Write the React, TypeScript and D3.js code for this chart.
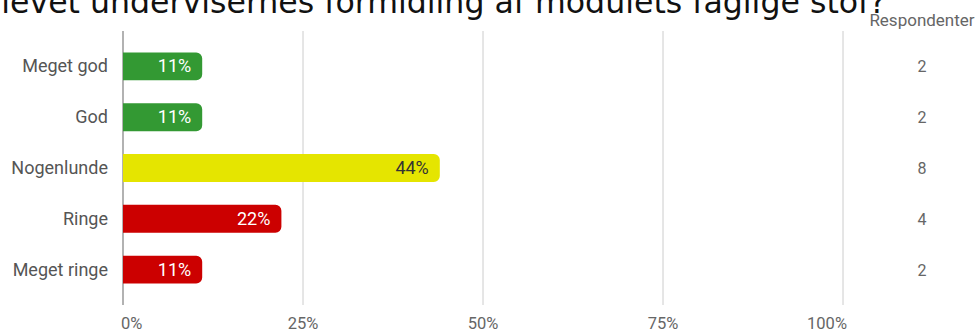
import React from "react";
import * as d3 from "d3";

const categories = ["Meget god", "God", "Nogenlunde", "Ringe", "Meget ringe"];
const percents = [11, 11, 44, 22, 11];
const counts = [2, 2, 8, 4, 2];
const barColors = ["#339933", "#339933", "#e5e500", "#cc0000", "#cc0000"];
const labelColors = ["#ffffff", "#ffffff", "#333333", "#ffffff", "#ffffff"];
const ticks = [0, 25, 50, 75, 100];
const title = "levet undervisernes formidling af modulets faglige stof?";

export default function App() {
  const W = 979, H = 332;
  const x = d3.scaleLinear().domain([0, 100]).range([123, 843]);
  const y = d3.scaleBand().domain(categories).range([41, 295]).paddingInner(0.45).paddingOuter(0.225);
  const bh = y.bandwidth();
  const r = 6;
  const barPath = (v: number, yy: number) => {
    const x0 = x(0), x1 = x(v);
    const p = d3.path();
    p.moveTo(x0, yy);
    p.lineTo(x1 - r, yy);
    p.arcTo(x1, yy, x1, yy + r, r);
    p.lineTo(x1, yy + bh - r);
    p.arcTo(x1, yy + bh, x1 - r, yy + bh, r);
    p.lineTo(x0, yy + bh);
    p.closePath();
    return p.toString();
  };
  return (
    <svg width={W} height={H} style={{ position: "absolute", left: 0, top: 0, background: "#fff" }}>
      <text x={886} y={13} textAnchor="end" fontFamily="DejaVu Sans" fontSize={31.6} fill="#111">{title}</text>
      <text x={922} y={26} textAnchor="middle" fontFamily="Roboto" fontSize={17} fill="#666">Respondenter</text>
      {ticks.map((t, i) => (
        <g key={t}>
          <line x1={x(t)} x2={x(t)} y1={31} y2={305} stroke={t === 0 ? "#999" : "#ccc"} strokeWidth={t === 0 ? 1.5 : 1} />
          <text
            x={i === 0 ? x(t) - 2 : i === ticks.length - 1 ? x(t) + 4 : x(t)}
            y={329}
            textAnchor={i === 0 ? "start" : i === ticks.length - 1 ? "end" : "middle"}
            fontFamily="Roboto" fontSize={16.5} fill="#666">{t}%</text>
        </g>
      ))}
      {categories.map((c, i) => {
        const yy = y(c)!;
        const cy = yy + bh / 2;
        return (
          <g key={c}>
            <path d={barPath(percents[i], yy)} fill={barColors[i]} />
            <text x={x(percents[i]) - 11} y={cy + 6} textAnchor="end" fontFamily="Roboto" fontSize={18} fill={labelColors[i]}>{percents[i]}%</text>
            <text x={108} y={cy + 6} textAnchor="end" fontFamily="Roboto" fontSize={18} fill="#555">{c}</text>
            <text x={922} y={cy + 6} textAnchor="middle" fontFamily="Roboto" fontSize={16} fill="#666">{counts[i]}</text>
          </g>
        );
      })}
    </svg>
  );
}
